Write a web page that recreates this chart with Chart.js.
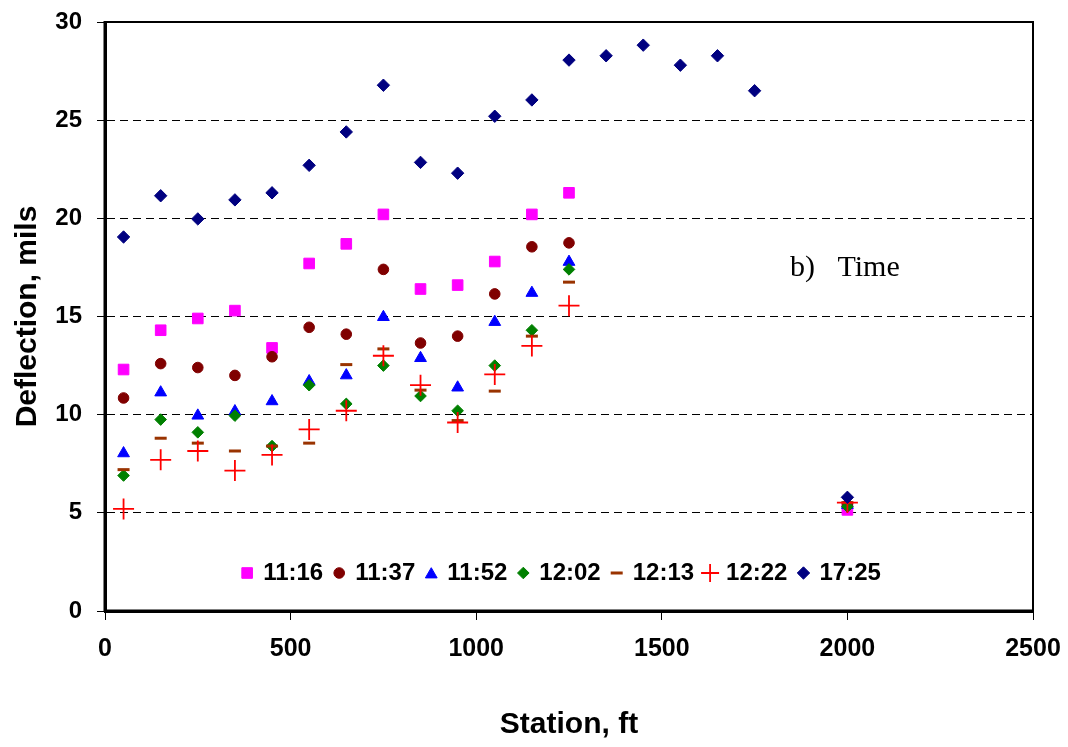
<!DOCTYPE html>
<html><head><meta charset="utf-8">
<script src="https://cdn.jsdelivr.net/npm/chart.js@4.4.1/dist/chart.umd.min.js"></script>
<style>html,body{margin:0;padding:0;background:#fff;}#wrap{width:1068px;height:747px;}</style>
</head><body><div id="wrap"><canvas id="c" width="1068" height="747"></canvas></div>
<script>
// ---- data ----
const stationsA = [50, 150, 250, 350, 450, 550, 650, 750, 850, 950, 1050, 1150, 1250, 2000];
const stationsB = [50, 150, 250, 350, 450, 550, 650, 750, 850, 950, 1050, 1150, 1250, 1350, 1450, 1550, 1650, 1750, 2000];
const seriesNames = ['11:16', '11:37', '11:52', '12:02', '12:13', '12:22', '17:25'];
const d1116 = [12.3, 14.3, 14.9, 15.3, 13.4, 17.7, 18.7, 20.2, 16.4, 16.6, 17.8, 20.2, 21.3, 5.15];
const d1137 = [10.85, 12.6, 12.4, 12.0, 12.95, 14.45, 14.1, 17.4, 13.65, 14.0, 16.15, 18.55, 18.75, 5.4];
const d1152 = [8.03, 11.13, 9.95, 10.17, 10.68, 11.7, 12.0, 14.97, 12.88, 11.38, 14.72, 16.2, 17.78, 5.4];
const d1202 = [6.9, 9.75, 9.1, 9.95, 8.4, 11.5, 10.55, 12.5, 10.95, 10.2, 12.5, 14.3, 17.4, 5.32];
const d1213 = [7.2, 8.8, 8.55, 8.15, 8.4, 8.55, 12.55, 13.35, 11.25, 9.7, 11.2, 14.0, 16.75, 5.52];
const d1222 = [5.2, 7.7, 8.15, 7.15, 7.95, 9.25, 10.2, 13.0, 11.5, 9.6, 12.05, 13.5, 15.55, 5.52];
const d1725 = [19.05, 21.15, 19.97, 20.94, 21.3, 22.7, 24.4, 26.78, 22.85, 22.3, 25.2, 26.03, 28.06, 28.28, 28.82, 27.8, 28.28, 26.5, 5.79];
const yTicks = [0, 5, 10, 15, 20, 25, 30];
const xTicks = [0, 500, 1000, 1500, 2000, 2500];
const xTitle = 'Station, ft';
const yTitle = 'Deflection, mils';
const noteText = 'b)   Time';

// ---- styles ----
const styles = [
  {color: '#FF00FF', pointStyle: 'rect', radius: 7.5, borderWidth: 1},
  {color: '#800000', pointStyle: 'circle', radius: 5.3, borderWidth: 1},
  {color: '#0000FF', pointStyle: 'triangle', radius: 6.8, borderWidth: 1},
  {color: '#008000', pointStyle: 'rectRot', radius: 5.8, borderWidth: 1},
  {color: '#993300', pointStyle: 'line', radius: 6, borderWidth: 3},
  {color: '#FF0000', pointStyle: 'cross', radius: 10.5, borderWidth: 1.8},
  {color: '#000080', pointStyle: 'rectRot', radius: 6.2, borderWidth: 1}
];
const allData = [d1116, d1137, d1152, d1202, d1213, d1222, d1725];
const allX = [stationsA, stationsA, stationsA, stationsA, stationsA, stationsA, stationsB];

const datasets = seriesNames.map((name, i) => ({
  label: name,
  data: allData[i].map((v, j) => ({x: allX[i][j], y: v})),
  backgroundColor: styles[i].color,
  borderColor: styles[i].color,
  pointStyle: styles[i].pointStyle,
  pointRadius: styles[i].radius,
  pointHoverRadius: styles[i].radius,
  pointBorderWidth: styles[i].borderWidth,
  order: seriesNames.length - 1 - i,
  showLine: false
}));

const FONT = '"Liberation Sans", Arial, sans-serif';

const framePlugin = {
  id: 'frame',
  afterDraw(chart) {
    const {ctx, chartArea: a} = chart;
    ctx.save();
    ctx.strokeStyle = '#000';
    ctx.lineWidth = 2;
    ctx.strokeRect(a.left, a.top, a.right - a.left, a.bottom - a.top);
    ctx.lineWidth = 3;
    ctx.beginPath();
    ctx.moveTo(a.left, a.top - 1); ctx.lineTo(a.left, a.bottom + 1);
    ctx.moveTo(a.left - 1, a.bottom); ctx.lineTo(a.right + 1, a.bottom);
    ctx.stroke();
    ctx.fillStyle = '#000';
    ctx.font = '30px "Liberation Serif", "Times New Roman", serif';
    ctx.textBaseline = 'alphabetic';
    ctx.textAlign = 'left';
    ctx.fillText(noteText, 790, 276);
    ctx.restore();
  }
};

const legendPlugin = {
  id: 'innerLegend',
  afterDraw(chart) {
    const {ctx, chartArea: a} = chart;
    ctx.save();
    ctx.font = 'bold 24px ' + FONT;
    ctx.textBaseline = 'middle';
    ctx.textAlign = 'left';
    const gapMarkerText = 16, gapItem = 16;
    const widths = seriesNames.map(n => ctx.measureText(n).width);
    let total = 0;
    widths.forEach((w, i) => { total += gapMarkerText + w + (i < widths.length - 1 ? gapItem : 0); });
    let x = (a.left + a.right) / 2 - 6 - total / 2 + 1;
    const y = 573;
    seriesNames.forEach((n, i) => {
      const s = styles[i];
      ctx.fillStyle = s.color;
      ctx.strokeStyle = s.color;
      ctx.lineWidth = s.borderWidth;
      const r = s.pointStyle === 'cross' ? 9 : s.radius;
      Chart.helpers.drawPoint(ctx, {pointStyle: s.pointStyle, radius: r, borderWidth: s.borderWidth, rotation: 0}, x, s.pointStyle === 'triangle' ? y + 1.5 : y);
      ctx.fillStyle = '#000';
      ctx.fillText(n, x + gapMarkerText, y);
      x += gapMarkerText + widths[i] + gapItem;
    });
    ctx.restore();
  }
};

function noPad(s) { s.paddingTop = 0; s.paddingBottom = 0; s.paddingLeft = 0; s.paddingRight = 0; }

new Chart(document.getElementById('c'), {
  type: 'scatter',
  data: {datasets},
  plugins: [framePlugin, legendPlugin],
  options: {
    responsive: false,
    animation: false,
    layout: {padding: {left: 0, top: 22, right: 35, bottom: 0}},
    plugins: {legend: {display: false}, tooltip: {enabled: false}},
    scales: {
      x: {
        type: 'linear', min: 0, max: 2500,
        afterBuildTicks: s => { s.ticks = xTicks.map(v => ({value: v})); },
        afterFit: s => { s.height = 136; noPad(s); },
        ticks: {color: '#000', padding: 14, autoSkip: false, maxRotation: 0,
          callback: v => String(v),
          font: {family: FONT, size: 25, weight: 'bold'}},
        grid: {drawOnChartArea: false, drawTicks: true, tickLength: 9, color: '#000', tickColor: '#000', tickWidth: 1},
        border: {display: true, color: '#000', width: 3},
        title: {display: true, text: xTitle, color: '#000', padding: {top: 0, bottom: 4},
          font: {family: FONT, size: 30, weight: 'bold'}}
      },
      y: {
        type: 'linear', min: 0, max: 30,
        afterBuildTicks: s => { s.ticks = yTicks.map(v => ({value: v})); },
        afterFit: s => { s.width = 105; noPad(s); },
        ticks: {color: '#000', padding: 15, autoSkip: false,
          callback: v => String(v),
          font: {family: FONT, size: 24, weight: 'bold'}},
        grid: {drawOnChartArea: true, drawTicks: true, tickLength: 8, color: '#000', lineWidth: 1,
          tickColor: '#000', tickWidth: 1, tickBorderDash: []},
        border: {display: true, color: '#000', width: 3, dash: [8, 5]},
        title: {display: true, text: yTitle, color: '#000', padding: {top: 10, bottom: 0},
          font: {family: FONT, size: 30, weight: 'bold'}}
      }
    }
  }
});
</script>
</body></html>
